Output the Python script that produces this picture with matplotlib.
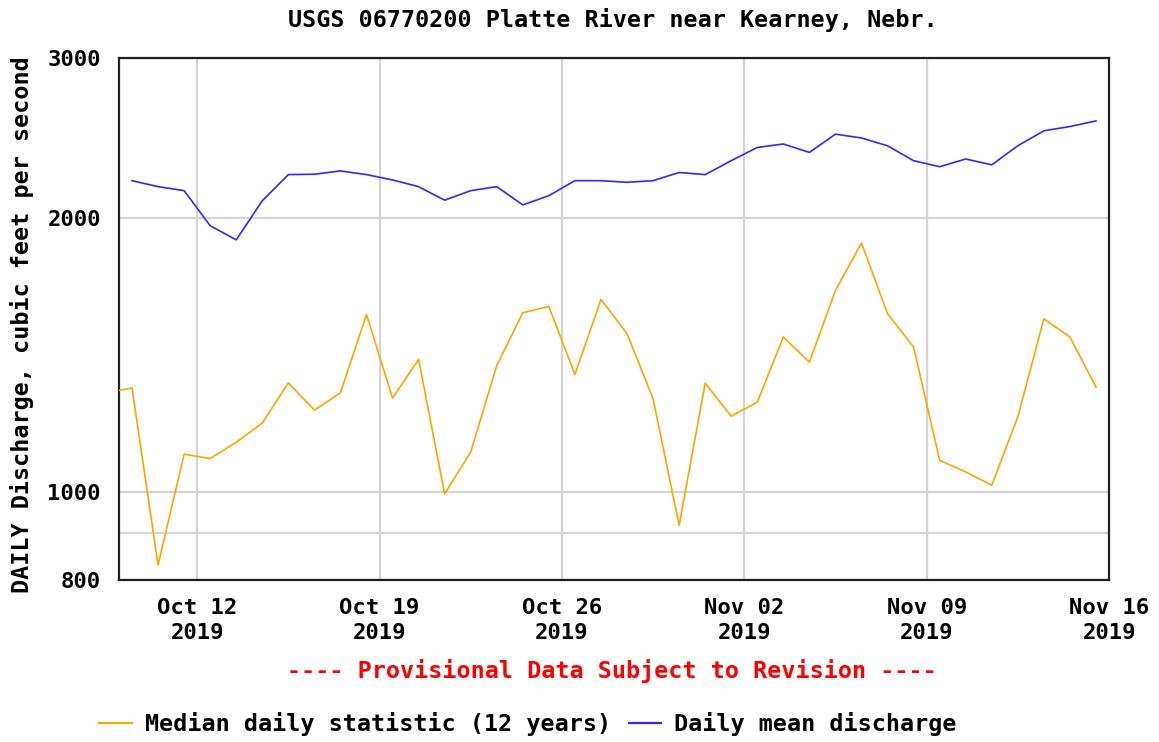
import datetime as dt
import matplotlib
matplotlib.use("Agg")
import matplotlib.pyplot as plt
import matplotlib.dates as mdates
from matplotlib.ticker import FixedLocator, NullFormatter, FuncFormatter
from matplotlib.lines import Line2D

# Daily values, plotted at noon of each day (first median value precedes the window)
median_start = dt.datetime(2019, 10, 8, 12)
median_cfs = [1285, 1301, 831, 1100, 1088, 1134, 1190, 1318, 1230, 1285,
              1567, 1268, 1399, 995, 1106, 1377, 1574, 1599, 1346, 1628,
              1493, 1266, 919, 1317, 1211, 1255, 1480, 1389, 1665, 1878,
              1570, 1443, 1083, 1052, 1017, 1209, 1550, 1480, 1304]

mean_start = dt.datetime(2019, 10, 9, 12)
mean_cfs = [2199, 2166, 2144, 1962, 1893, 2090, 2233, 2235, 2254, 2233,
            2203, 2166, 2093, 2144, 2166, 2068, 2117, 2199, 2199, 2190,
            2199, 2245, 2233, 2313, 2392, 2413, 2362, 2474, 2450, 2402,
            2313, 2278, 2323, 2289, 2402, 2495, 2522, 2558]

x_ticks = [dt.datetime(2019, 10, 12), dt.datetime(2019, 10, 19),
           dt.datetime(2019, 10, 26), dt.datetime(2019, 11, 2),
           dt.datetime(2019, 11, 9), dt.datetime(2019, 11, 16)]
y_ticks = [800, 1000, 2000, 3000]
y_extra_grid = [900]

title = "USGS 06770200 Platte River near Kearney, Nebr."
y_label = "DAILY Discharge, cubic feet per second"
note = "---- Provisional Data Subject to Revision ----"
median_label = "Median daily statistic (12 years)"
mean_label = "Daily mean discharge"

median_dates = [median_start + dt.timedelta(days=i) for i in range(len(median_cfs))]
mean_dates = [mean_start + dt.timedelta(days=i) for i in range(len(mean_cfs))]

W, H = 1159, 742
fig = plt.figure(figsize=(W / 100, H / 100), dpi=100)
ax = fig.add_axes([119 / W, 1 - 580 / H, 990 / W, 522 / H])

font = dict(family="DejaVu Sans Mono", weight="bold")
orange = "#FFA500"
blue = "#2A2AFF"

ax.plot(median_dates, median_cfs, color=orange, lw=1.2, zorder=3)
ax.plot(mean_dates, mean_cfs, color=blue, lw=1.2, zorder=3)

ax.set_yscale("log")
ax.set_ylim(800, 3000)
ax.set_xlim(dt.datetime(2019, 10, 9), dt.datetime(2019, 11, 16))

ax.yaxis.set_major_locator(FixedLocator(y_ticks))
ax.yaxis.set_major_formatter(FuncFormatter(lambda v, p: f"{v:.0f}"))
ax.yaxis.set_minor_locator(FixedLocator(y_extra_grid))
ax.yaxis.set_minor_formatter(NullFormatter())
ax.xaxis.set_major_locator(FixedLocator(mdates.date2num(x_ticks)))
ax.xaxis.set_major_formatter(mdates.DateFormatter("%b %d\n%Y"))

ax.grid(True, which="both", color="#d4d4d4", lw=1.6, zorder=1)
ax.tick_params(which="both", length=0)
ax.tick_params(axis="y", pad=13)
ax.tick_params(axis="x", pad=13)
for lab in ax.get_xticklabels() + ax.get_yticklabels():
    lab.set_fontfamily(font["family"])
    lab.set_fontweight("bold")
    lab.set_fontsize(16)
    lab.set_linespacing(1.3)

for s in ax.spines.values():
    s.set_color("#222222")
    s.set_linewidth(1.6)

fig.text(613 / W, 1 - 20 / H, title, ha="center", va="center", fontsize=16.8, **font)
fig.text(22 / W, 1 - 325 / H, y_label, ha="center", va="center", rotation=90,
         fontsize=16.8, **font)
fig.text(612 / W, 1 - 671 / H, note, ha="center", va="center", fontsize=16.8,
         color="#FF0000", **font)

handles = [Line2D([], [], color=orange, lw=1.6), Line2D([], [], color=blue, lw=1.6)]
fig.legend(handles, [median_label, mean_label], loc="center",
           bbox_to_anchor=(528 / W, 1 - 724 / H), ncol=2, frameon=False,
           handlelength=1.4, handletextpad=0.55, columnspacing=0.75,
           prop=dict(family="DejaVu Sans Mono", weight="bold", size=16.8))

fig.savefig("out.png", dpi=100)
